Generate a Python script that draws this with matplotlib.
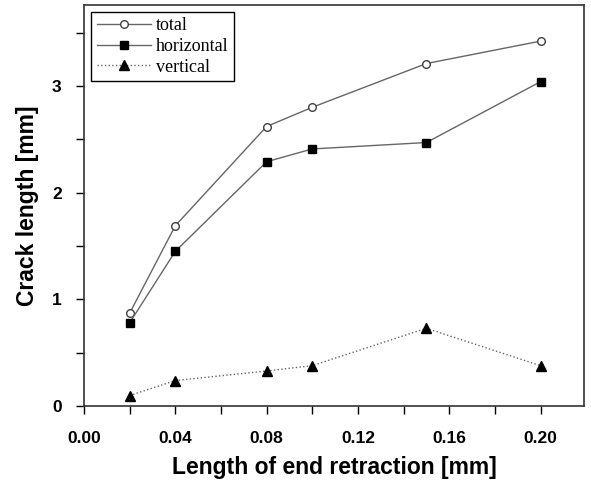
import matplotlib
matplotlib.use('Agg')
import matplotlib.pyplot as plt
from matplotlib.ticker import MultipleLocator

# Data
retraction = [0.02, 0.04, 0.08, 0.10, 0.15, 0.20]
total = [0.87, 1.69, 2.62, 2.80, 3.21, 3.42]
horizontal = [0.78, 1.45, 2.29, 2.41, 2.47, 3.04]
vertical = [0.10, 0.24, 0.33, 0.38, 0.73, 0.38]

fig = plt.figure(figsize=(5.91, 4.83), dpi=100)
ax = fig.add_axes([0.142, 0.159, 0.846, 0.831])

line_col = '#666666'
ax.plot(retraction, total, '-', color=line_col, lw=1.0, marker='o', ms=5.5,
        mfc='white', mec='#404040', mew=1.0, label='total')
ax.plot(retraction, horizontal, '-', color=line_col, lw=1.0, marker='s', ms=5.5,
        mfc='black', mec='black', label='horizontal')
ax.plot(retraction, vertical, ':', color=line_col, lw=1.0, marker='^', ms=7.5,
        mfc='black', mec='black', label='vertical')

ax.set_xlim(0, 0.219)
ax.set_ylim(0, 3.76)
ax.xaxis.set_major_locator(MultipleLocator(0.04))
ax.xaxis.set_minor_locator(MultipleLocator(0.02))
ax.yaxis.set_major_locator(MultipleLocator(1))
ax.yaxis.set_minor_locator(MultipleLocator(0.5))
ax.xaxis.set_major_formatter(plt.FuncFormatter(lambda v, p: f'{v:.2f}'))
ax.tick_params(which='both', direction='out', length=6, width=1, top=False, right=False)
ax.tick_params(axis='x', which='major', pad=12)
ax.tick_params(axis='y', which='major', pad=10)

for lab in ax.get_xticklabels() + ax.get_yticklabels():
    lab.set_fontfamily('Liberation Sans')
    lab.set_fontweight('bold')
    lab.set_fontsize(12.5)

for sp in ax.spines.values():
    sp.set_linewidth(1.2)
    sp.set_color('#333333')

ax.set_xlabel('Length of end retraction [mm]', fontsize=16.5, fontweight='bold',
              fontfamily='Liberation Sans', labelpad=7)
ax.set_ylabel('Crack length [mm]', fontsize=16.5, fontweight='bold',
              fontfamily='Liberation Sans', labelpad=9)

leg = ax.legend(loc='upper left', prop={'family': 'Liberation Serif', 'size': 13},
                fancybox=False, edgecolor='black', framealpha=1, handlelength=3.0,
                borderaxespad=0.4, labelspacing=0.2, handletextpad=0.3,
                borderpad=0.3)
leg.get_frame().set_linewidth(1.0)

plt.savefig('out.png', dpi=100, facecolor='white')
